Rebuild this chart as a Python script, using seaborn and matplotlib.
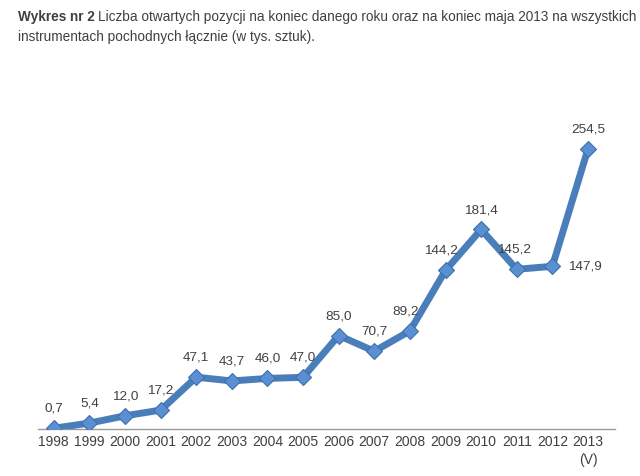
import pandas as pd
import matplotlib.pyplot as plt
import seaborn as sns

# Data
years = ['1998', '1999', '2000', '2001', '2002', '2003', '2004', '2005',
         '2006', '2007', '2008', '2009', '2010', '2011', '2012', '2013\n(V)']
values = [0.7, 5.4, 12.0, 17.2, 47.1, 43.7, 46.0, 47.0,
          85.0, 70.7, 89.2, 144.2, 181.4, 145.2, 147.9, 254.5]
labels = ['0,7', '5,4', '12,0', '17,2', '47,1', '43,7', '46,0', '47,0',
          '85,0', '70,7', '89,2', '144,2', '181,4', '145,2', '147,9', '254,5']

df = pd.DataFrame({'pos': range(len(years)), 'value': values})

sns.set_style('white')
plt.rcParams['font.family'] = ['Liberation Sans', 'DejaVu Sans']

fig = plt.figure(figsize=(6.4, 4.76), dpi=100)
ax = fig.add_axes([0.059, 0.0987, 0.902, 0.691])

sns.lineplot(x='pos', y='value', data=df, ax=ax, color='#4a7ebb', linewidth=5,
             marker='D', markersize=8.5, markerfacecolor='#5a8fd2',
             markeredgecolor='#3f6fae', markeredgewidth=0.8)

text_col = '#404040'
# small horizontal nudges (points) for a few labels, as in the original
shift = {'89,2': -3, '144,2': -3, '145,2': -2}
for i, (v, lab) in enumerate(zip(values, labels)):
    if lab == '147,9':
        ax.annotate(lab, (i, v), xytext=(11, 0), textcoords='offset points',
                    ha='left', va='center', fontsize=9.7, color=text_col)
    else:
        ax.annotate(lab, (i, v), xytext=(shift.get(lab, 0), 14),
                    textcoords='offset points',
                    ha='center', va='center', fontsize=9.7, color=text_col)

ax.set_xlim(-0.45, 15.76)
ax.set_ylim(0, 299)
ax.set_xticks(range(len(years)))
ax.set_xticklabels(years, fontsize=10, color=text_col, linespacing=1.4, va='top')
ax.set_yticks([])
ax.set_xlabel('')
ax.set_ylabel('')
ax.tick_params(axis='x', length=0, pad=4)
for s in ['top', 'right', 'left']:
    ax.spines[s].set_visible(False)
ax.spines['bottom'].set_color('#9a9a9a')
ax.spines['bottom'].set_linewidth(1)
ax.spines['bottom'].set_zorder(0)

# Title: bold lead-in followed by normal text
t_bold = fig.text(0.028, 0.98, 'Wykres nr 2', fontsize=9.8, fontweight='bold',
                  color=text_col, va='top')
r = fig.canvas.get_renderer()
bb = t_bold.get_window_extent(renderer=r)
x_rest = (bb.x1 + 3) / fig.bbox.width
fig.text(x_rest, 0.98,
         'Liczba otwartych pozycji na koniec danego roku oraz na koniec maja 2013 na wszystkich',
         fontsize=9.8, color=text_col, va='top')
fig.text(0.028, 0.937, 'instrumentach pochodnych łącznie (w tys. sztuk).',
         fontsize=9.8, color=text_col, va='top')

plt.savefig('out.png', dpi=100)
